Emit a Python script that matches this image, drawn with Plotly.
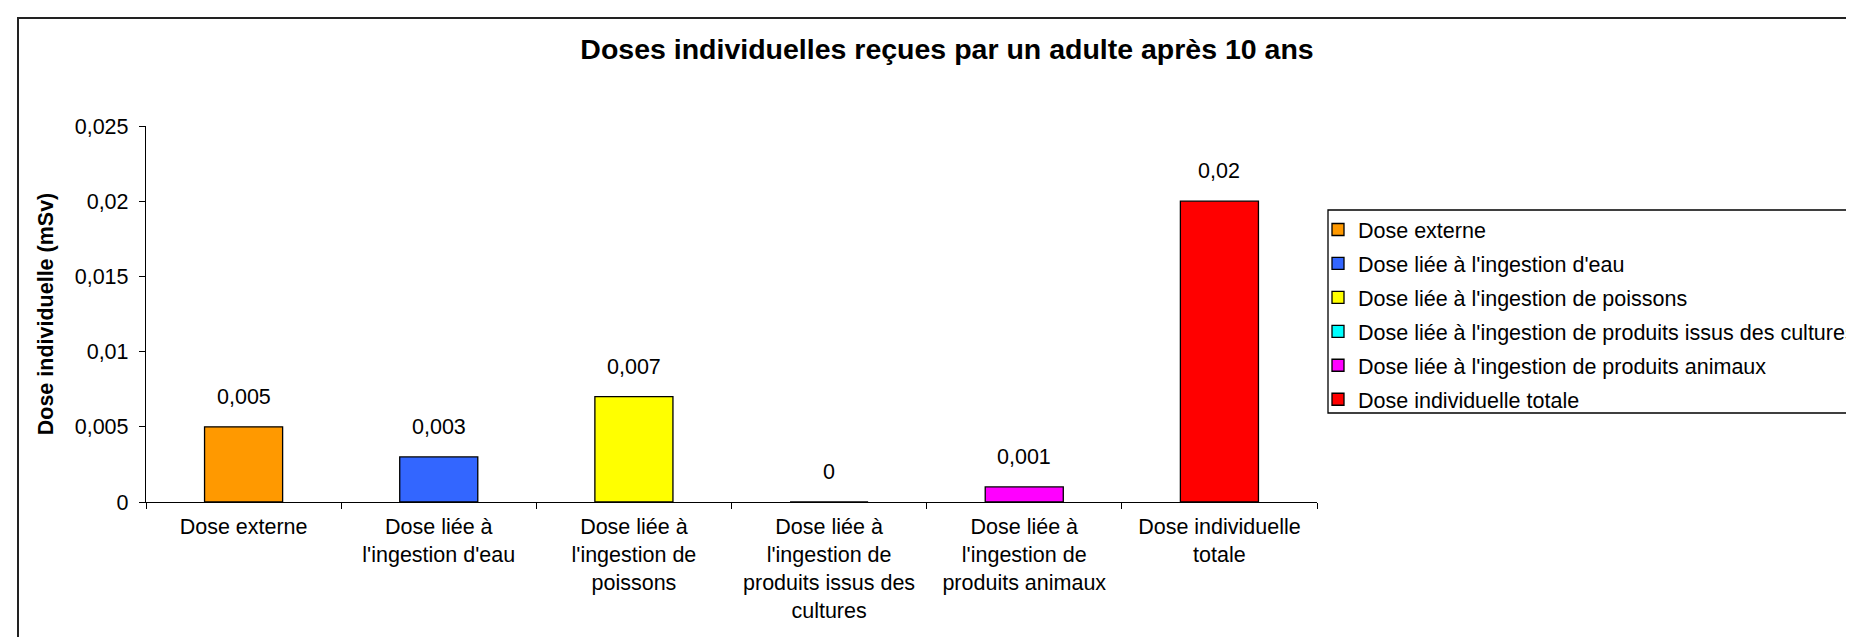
import plotly.graph_objects as go

# ---- data ----
categories = [
    "Dose externe",
    "Dose liée à l'ingestion d'eau",
    "Dose liée à l'ingestion de poissons",
    "Dose liée à l'ingestion de produits issus des cultures",
    "Dose liée à l'ingestion de produits animaux",
    "Dose individuelle totale",
]
tick_labels = [
    "Dose externe",
    "Dose liée à<br>l'ingestion d'eau",
    "Dose liée à<br>l'ingestion de<br>poissons",
    "Dose liée à<br>l'ingestion de<br>produits issus des<br>cultures",
    "Dose liée à<br>l'ingestion de<br>produits animaux",
    "Dose individuelle<br>totale",
]
doses = [0.005, 0.003, 0.007, 0.0, 0.001, 0.02]
colors = ["#FF9900", "#3366FF", "#FFFF00", "#00FFFF", "#FF00FF", "#FF0000"]

title_text = "Doses individuelles reçues par un adulte après 10 ans"
y_title = "Dose individuelle (mSv)"

FONT = "Liberation Sans, Arial, sans-serif"
W, H = 1854, 637
L, R, T, B = 138, 545, 118, 143
pw = W - L - R
ph = H - T - B


def px_x(p):
    return (p - L) / pw


def px_y(p):
    return (H - B - p) / ph


fig = go.Figure()
for i, (cat, v, c) in enumerate(zip(categories, doses, colors)):
    fig.add_trace(go.Bar(
        x=[cat], y=[v], name=cat, width=0.4,
        marker=dict(color=c, line=dict(color="black", width=1.3)),
        legendgroup=f"g{i}", hoverinfo="x+y",
    ))
    fig.add_annotation(
        x=cat, y=v, text=f"{v:g}".replace(".", ","), showarrow=False,
        yanchor="bottom", yshift=16, font=dict(size=21.5, color="black", family=FONT),
    )

# chart-area border (extends past right/bottom edges like the reference)
fig.add_shape(
    type="rect", xref="paper", yref="paper", layer="below",
    x0=px_x(10), x1=px_x(W + 20), y0=px_y(10), y1=px_y(H + 20),
    line=dict(color="#222222", width=2), fillcolor="rgba(0,0,0,0)",
)
# legend frame
fig.add_shape(
    type="rect", xref="paper", yref="paper", layer="below",
    x0=px_x(1320), x1=px_x(W + 20), y0=px_y(202), y1=px_y(405),
    line=dict(color="black", width=1.3), fillcolor="white",
)

fig.update_layout(
    width=W, height=H,
    margin=dict(l=L, r=R, t=T, b=B, autoexpand=False),
    paper_bgcolor="white", plot_bgcolor="white",
    barmode="overlay", separators=", ",
    font=dict(family=FONT, size=21.5, color="black"),
    title=dict(text="<b>" + title_text + "</b>", x=939 / W, xanchor="center",
               y=1 - 41 / H, yanchor="middle", font=dict(size=28.5, family=FONT)),
    legend=dict(
        x=px_x(1310), xanchor="left", y=px_y(201), yanchor="top",
        borderwidth=0, bgcolor="rgba(0,0,0,0)",
        font=dict(size=21.5, family=FONT), tracegroupgap=3,
        traceorder="grouped",
    ),
    xaxis=dict(
        categoryorder="array", categoryarray=categories,
        tickvals=categories, ticktext=tick_labels,
        showline=True, linecolor="black", linewidth=1.3,
        ticks="outside", ticklen=6, tickcolor="black", tickwidth=1.3,
        tickson="boundaries", showgrid=False, zeroline=False, fixedrange=True,
        tickangle=0, ticklabelstandoff=5,
    ),
    yaxis=dict(
        range=[0, 0.025], dtick=0.005, tick0=0,
        showline=True, linecolor="black", linewidth=1.3,
        ticks="outside", ticklen=6, tickcolor="black", tickwidth=1.3,
        showgrid=False, zeroline=False, ticklabelstandoff=6,
        title=dict(text="<b>" + y_title + "</b>", font=dict(size=21.5, family=FONT), standoff=15),
    ),
    showlegend=True,
)

fig.write_html("out.html")
